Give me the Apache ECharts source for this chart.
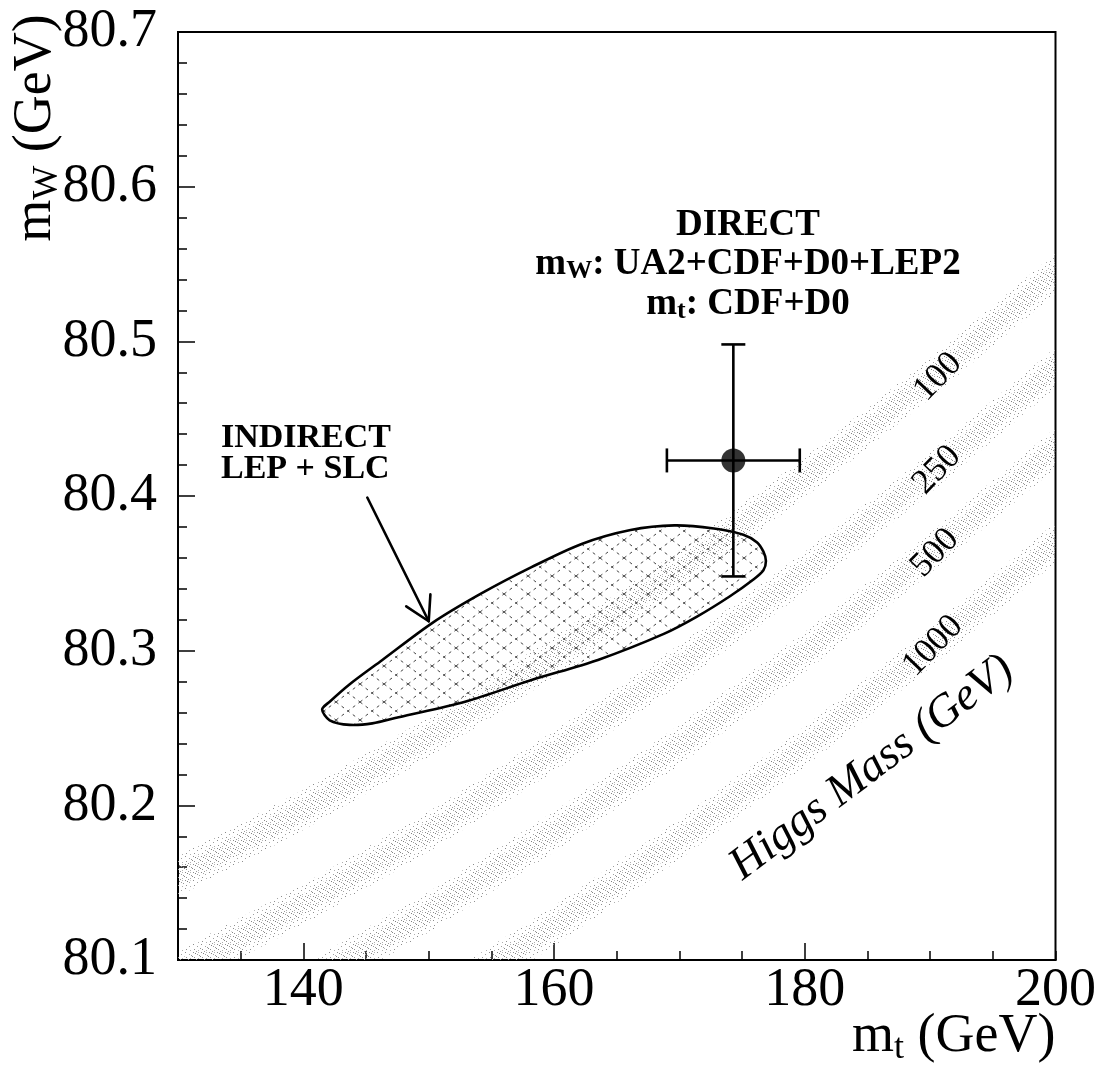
<!DOCTYPE html>
<html><head><meta charset="utf-8">
<script src="https://cdn.jsdelivr.net/npm/echarts@6/dist/echarts.min.js"></script>
<style>html,body{margin:0;padding:0;background:#fff}#c{width:1099px;height:1071px}</style>
</head><body><div id="c"></div>
<script>
// ---- data ----
const xTickLabels = [140, 160, 180, 200];
const xMajorTicks = [140, 160, 180];
const yTickLabels = [80.1, 80.2, 80.3, 80.4, 80.5, 80.6, 80.7];

// Standard Model Higgs-mass bands (band centre m_W vs m_t)
const bandMt   = [130, 140, 150, 160, 170, 180, 190, 200];
const band100  = [80.154, 80.197, 80.244, 80.296, 80.352, 80.412, 80.476, 80.544];
const band250  = [80.093, 80.136, 80.183, 80.235, 80.291, 80.351, 80.415, 80.483];
const band500  = [80.041, 80.084, 80.131, 80.183, 80.239, 80.299, 80.363, 80.431];
const band1000 = [79.980, 80.023, 80.070, 80.122, 80.178, 80.238, 80.302, 80.370];
const bandHalfWidthOuter = 0.013;
const bandHalfWidthInner = 0.007;
const higgsLabels = ['100', '250', '500', '1000'];

// Indirect (LEP + SLC) contour
const indirectMt = [141.5, 142.1, 143.7, 145.5, 147.6, 152.9, 158.2, 163.5, 168.8, 171.4, 174.0, 175.9, 176.7, 176.9, 176.7, 176.2, 175.1, 172.75, 169.6, 166.1, 162.2, 158.2, 154.2, 150.3, 146.3, 143.65, 142.1];
const indirectMw = [80.262, 80.255, 80.252, 80.253, 80.257, 80.267, 80.281, 80.294, 80.311, 80.322, 80.335, 80.346, 80.352, 80.358, 80.364, 80.370, 80.375, 80.379, 80.381, 80.378, 80.369, 80.354, 80.337, 80.318, 80.294, 80.278, 80.267];

// Direct measurement
const directMt = [174.3];
const directMtErr = [5.3];
const directMw = [80.423];
const directMwErr = [0.075];

// Annotation arrow (start -> tip)
const arrowMt = [145.1, 150.0];
const arrowMw = [80.399, 80.319];

// ---- patterns (fixed dot layouts) ----
function dotTile(size, dots) {
  const c = document.createElement('canvas'); c.width = size; c.height = size;
  const g = c.getContext('2d');
  dots.forEach(d => { g.fillStyle = d[2]; g.fillRect(d[0], d[1], 1, 1); });
  return c;
}
const stippleOuter = dotTile(8, [[1,0,'#8c8c8c'],[5,2,'#a0a0a0'],[2,5,'#909090'],[6,6,'#b0b0b0']]);
const stippleInner = dotTile(8, [[3,1,'#808080'],[7,3,'#999'],[0,4,'#888'],[4,7,'#9a9a9a'],[6,0,'#b5b5b5']]);
function hatch() {
  const c = document.createElement('canvas'); c.width = 24; c.height = 18;
  const g = c.getContext('2d');
  g.strokeStyle = '#444'; g.lineWidth = 1; g.setLineDash([3, 4]);
  g.beginPath(); g.moveTo(0, 0); g.lineTo(24, 18); g.moveTo(0, 18); g.lineTo(24, 0); g.stroke();
  return c;
}
const hatchImg = hatch();

const SERIF = '"Liberation Serif", "Times New Roman", serif';
const bands = [band100, band250, band500, band1000];

const chart = echarts.init(document.getElementById('c'), null, {renderer: 'canvas'});

function clipRect(params) {
  const cs = params.coordSys;
  return {type: 'rect', shape: {x: cs.x, y: cs.y, width: cs.width, height: cs.height}};
}

const option = {
  backgroundColor: '#fff',
  animation: false,
  grid: {left: 178, top: 32, right: 39, bottom: 111, show: true, borderColor: '#000', borderWidth: 2, backgroundColor: 'transparent'},
  xAxis: [{
    type: 'value', min: 130, max: 200, interval: 5,
    axisLine: {show: true, lineStyle: {color: '#000', width: 2}},
    axisTick: {show: true, inside: true, length: 9, lineStyle: {color: '#000', width: 1.5}},
    axisLabel: {show: false},
    splitLine: {show: false}
  }, {
    type: 'value', min: 130, max: 200, position: 'bottom',
    axisLine: {show: false},
    axisTick: {show: true, inside: true, length: 17, customValues: xMajorTicks, lineStyle: {color: '#000', width: 1.5}},
    axisLabel: {show: true, customValues: xTickLabels, margin: 4, color: '#000', fontSize: 54, fontFamily: SERIF,
      formatter: v => String(v)},
    splitLine: {show: false}
  }],
  yAxis: {
    type: 'value', min: 80.1, max: 80.7, interval: 0.1,
    axisLine: {show: true, lineStyle: {color: '#000', width: 2}},
    axisTick: {show: true, inside: true, length: 17, lineStyle: {color: '#000', width: 1.5}},
    minorTick: {show: true, splitNumber: 5, length: 9, lineStyle: {color: '#000', width: 1.5}},
    axisLabel: {show: true, margin: 21, color: '#000', fontSize: 54, fontFamily: SERIF,
      formatter: v => v.toFixed(1), customValues: yTickLabels},
    splitLine: {show: false}
  },
  series: [
    {
      type: 'custom', name: 'Higgs bands', coordinateSystem: 'cartesian2d', silent: true, z: 1,
      data: bands.map((b, i) => [170, 80.3, i]),
      renderItem: function (params, api) {
        const arr = bands[params.dataIndex];
        const poly = (hw, img) => {
          const up = bandMt.map((m, i) => api.coord([m, arr[i] + hw]));
          const lo = bandMt.map((m, i) => api.coord([m, arr[i] - hw])).reverse();
          return {type: 'polygon', shape: {points: up.concat(lo)}, style: {fill: {image: img, repeat: 'repeat'}, stroke: null}};
        };
        return {
          type: 'group', clipPath: clipRect(params),
          children: [poly(bandHalfWidthOuter, stippleOuter), poly(bandHalfWidthInner, stippleInner)]
        };
      }
    },
    {
      type: 'custom', name: 'INDIRECT', coordinateSystem: 'cartesian2d', silent: true, z: 2,
      data: [[160, 80.3]],
      renderItem: function (params, api) {
        const pts = indirectMt.map((m, i) => api.coord([m, indirectMw[i]]));
        return {
          type: 'group', children: [
            {type: 'polygon', shape: {points: pts, smooth: 0.3}, style: {fill: {image: hatchImg, repeat: 'repeat'}, stroke: null}},
            {type: 'polygon', shape: {points: pts, smooth: 0.3}, style: {fill: null, stroke: '#000', lineWidth: 2.6}}
          ]
        };
      }
    },
    {
      type: 'custom', name: 'arrow', coordinateSystem: 'cartesian2d', silent: true, z: 3,
      data: [[arrowMt[0], arrowMw[0]]],
      renderItem: function (params, api) {
        const s = api.coord([arrowMt[0], arrowMw[0]]);
        const t = api.coord([arrowMt[1], arrowMw[1]]);
        const ang = Math.atan2(s[1] - t[1], s[0] - t[0]);
        const L = 27, da = 30 * Math.PI / 180;
        const h1 = [t[0] + L * Math.cos(ang + da), t[1] + L * Math.sin(ang + da)];
        const h2 = [t[0] + L * Math.cos(ang - da), t[1] + L * Math.sin(ang - da)];
        const st = {stroke: '#000', lineWidth: 2.6, fill: null, lineCap: 'round', lineJoin: 'round'};
        return {type: 'group', children: [
          {type: 'line', shape: {x1: s[0], y1: s[1], x2: t[0], y2: t[1]}, style: st},
          {type: 'polyline', shape: {points: [h1, t, h2]}, style: st}
        ]};
      }
    },
    {
      type: 'custom', name: 'DIRECT errors', coordinateSystem: 'cartesian2d', silent: true, z: 4,
      data: directMt.map((m, i) => [m, directMw[i]]),
      renderItem: function (params, api) {
        const i = params.dataIndex;
        const l = api.coord([directMt[i] - directMtErr[i], directMw[i]]);
        const r = api.coord([directMt[i] + directMtErr[i], directMw[i]]);
        const t = api.coord([directMt[i], directMw[i] + directMwErr[i]]);
        const b = api.coord([directMt[i], directMw[i] - directMwErr[i]]);
        const c = 12;
        const st = {stroke: '#000', lineWidth: 2.6};
        return {type: 'group', children: [
          {type: 'line', shape: {x1: l[0], y1: l[1], x2: r[0], y2: r[1]}, style: st},
          {type: 'line', shape: {x1: t[0], y1: t[1], x2: b[0], y2: b[1]}, style: st},
          {type: 'line', shape: {x1: l[0], y1: l[1] - c, x2: l[0], y2: l[1] + c}, style: st},
          {type: 'line', shape: {x1: r[0], y1: r[1] - c, x2: r[0], y2: r[1] + c}, style: st},
          {type: 'line', shape: {x1: t[0] - c, y1: t[1], x2: t[0] + c, y2: t[1]}, style: st},
          {type: 'line', shape: {x1: b[0] - c, y1: b[1], x2: b[0] + c, y2: b[1]}, style: st}
        ]};
      }
    },
    {
      type: 'scatter', name: 'DIRECT', symbol: 'circle', symbolSize: 24, z: 5, silent: true,
      itemStyle: {color: '#000'},
      data: directMt.map((m, i) => [m, directMw[i]])
    }
  ],
  graphic: []
};

const rm = (size, bold) => ({fontSize: size, fontFamily: SERIF, fontWeight: bold ? 'bold' : 'normal', fill: '#000'});
const g = [];
// Axis names
g.push({type: 'text', x: 852, y: 1037, z: 10, style: {
  text: '{m|m}{s|t}{m| (GeV)}', align: 'left', verticalAlign: 'middle',
  rich: {m: Object.assign(rm(54), {lineHeight: 60, verticalAlign: 'middle'}), s: Object.assign(rm(36), {lineHeight: 14, verticalAlign: 'bottom'})}
}});
g.push({type: 'text', x: 36, y: 128, rotation: Math.PI / 2, z: 10, style: {
  text: '{m|m}{s|W}{m| (GeV)}', align: 'center', verticalAlign: 'middle',
  rich: {m: Object.assign(rm(54), {lineHeight: 60, verticalAlign: 'middle'}), s: Object.assign(rm(36), {lineHeight: 14, verticalAlign: 'bottom'})}
}});
// DIRECT block
g.push({type: 'text', x: 748, y: 225, z: 10, style: Object.assign(rm(37, true), {text: 'DIRECT', align: 'center', verticalAlign: 'middle'})});
const richDir = {m: Object.assign(rm(37, true), {lineHeight: 40, verticalAlign: 'middle'}), s: Object.assign(rm(26, true), {lineHeight: 13, verticalAlign: 'bottom'})};
g.push({type: 'text', x: 748, y: 264, z: 10, style: {text: '{m|m}{s|W}{m|: UA2+CDF+D0+LEP2}', align: 'center', verticalAlign: 'middle', rich: richDir}});
g.push({type: 'text', x: 748, y: 304, z: 10, style: {text: '{m|m}{s|t}{m|: CDF+D0}', align: 'center', verticalAlign: 'middle', rich: richDir}});
// INDIRECT block
g.push({type: 'text', x: 221, y: 438, z: 10, style: Object.assign(rm(34, true), {text: 'INDIRECT', align: 'left', verticalAlign: 'middle'})});
g.push({type: 'text', x: 221, y: 469, z: 10, style: Object.assign(rm(34, true), {text: 'LEP + SLC', align: 'left', verticalAlign: 'middle'})});
// Higgs band labels
const labPos = [[938, 377], [937, 470], [935, 553], [933, 646]];
higgsLabels.forEach((t, i) => g.push({type: 'text', x: labPos[i][0], y: labPos[i][1], rotation: 46 * Math.PI / 180, z: 10,
  style: Object.assign(rm(35), {text: t, align: 'center', verticalAlign: 'middle'})}));
g.push({type: 'text', x: 872, y: 768, rotation: 37 * Math.PI / 180, z: 10,
  style: Object.assign(rm(46), {text: 'Higgs Mass (GeV)', fontStyle: 'italic', align: 'center', verticalAlign: 'middle'})});
option.graphic = g;

chart.setOption(option);
</script>
</body></html>
